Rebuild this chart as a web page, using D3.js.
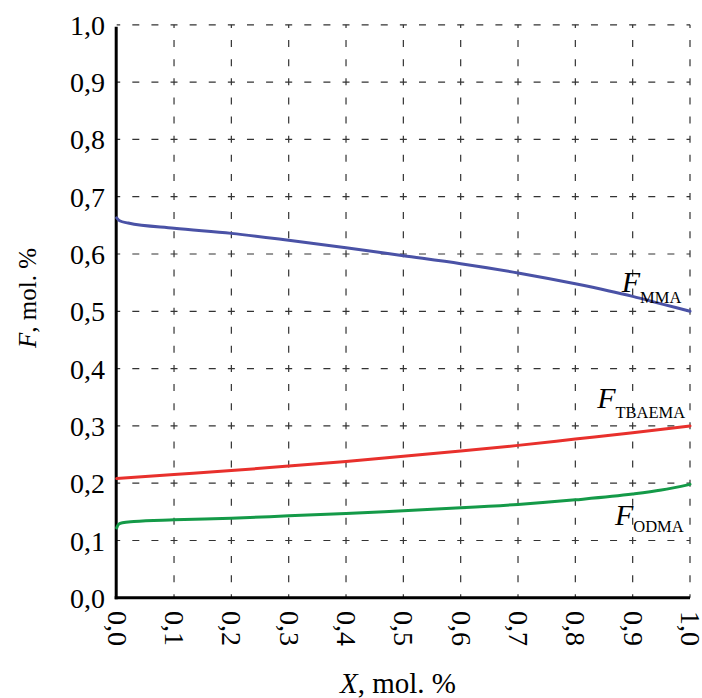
<!DOCTYPE html>
<html>
<head>
<meta charset="utf-8">
<script src="https://cdn.jsdelivr.net/npm/d3@7"></script>
<style>
  body { margin: 0; background: #fff; }
  svg { display: block; font-family: "Liberation Serif", "Times New Roman", serif; }
</style>
</head>
<body>
<svg id="chart" width="702" height="698"></svg>
<script>
// composition curves F vs conversion X
const ticks = [0, 0.1, 0.2, 0.3, 0.4, 0.5, 0.6, 0.7, 0.8, 0.9, 1.0];

const mmaX = [0, 0.005, 0.02, 0.1, 0.2, 0.3, 0.4, 0.5, 0.6, 0.7, 0.8, 0.9, 0.95, 1.0];
const mmaF = [0.663, 0.658, 0.654, 0.645, 0.636, 0.624, 0.611, 0.597, 0.583, 0.567, 0.548, 0.526, 0.513, 0.5];

const tbaemaX = [0, 0.1, 0.2, 0.3, 0.4, 0.5, 0.6, 0.7, 0.8, 0.9, 1.0];
const tbaemaF = [0.208, 0.215, 0.222, 0.23, 0.238, 0.247, 0.256, 0.266, 0.277, 0.288, 0.3];

const odmaX = [0, 0.003, 0.01, 0.03, 0.1, 0.2, 0.3, 0.4, 0.5, 0.6, 0.7, 0.8, 0.9, 0.95, 1.0];
const odmaF = [0.122, 0.128, 0.131, 0.133, 0.136, 0.139, 0.143, 0.147, 0.152, 0.157, 0.163, 0.171, 0.181, 0.188, 0.198];

const series = [
  { name: "MMA", xs: mmaX, ys: mmaF, color: "#4a52a6", lx: 0.881, ly: 0.533, sub: 11 },
  { name: "TBAEMA", xs: tbaemaX, ys: tbaemaF, color: "#e8302c", lx: 0.838, ly: 0.331, sub: 10 },
  { name: "ODMA", xs: odmaX, ys: odmaF, color: "#149a48", lx: 0.869, ly: 0.127, sub: 7 },
];

const fmt = (v) => v.toFixed(1).replace(".", ",");

const svg = d3.select("#chart");
const x = d3.scaleLinear().domain([0, 1]).range([116.7, 690]);
const y = d3.scaleLinear().domain([0, 1]).range([597.8, 24.8]);

const step = x(0.1) - x(0);
const dash = 7;
const dashArr = `${dash},${step / 3 - dash}`;

// grid (dashed, a dash centred on every crossing)
const grid = svg.append("g").attr("stroke", "#333").attr("stroke-width", 1.2)
  .attr("stroke-dasharray", dashArr).attr("stroke-dashoffset", dash / 2);
grid.selectAll("line.v").data(ticks.slice(1)).join("line")
  .attr("x1", (d) => x(d)).attr("x2", (d) => x(d))
  .attr("y1", y(0)).attr("y2", y(1));
grid.selectAll("line.h").data(ticks.slice(1)).join("line")
  .attr("class", "h")
  .attr("x1", x(0)).attr("x2", x(1))
  .attr("y1", (d) => y(d)).attr("y2", (d) => y(d));

// axes lines
svg.append("line").attr("x1", x(0) - 0.5).attr("x2", x(0) - 0.5)
  .attr("y1", y(1) + 2).attr("y2", y(0) + 1.5)
  .attr("stroke", "#000").attr("stroke-width", 3);
svg.append("line").attr("x1", x(0) - 2).attr("x2", x(1))
  .attr("y1", y(0)).attr("y2", y(0))
  .attr("stroke", "#000").attr("stroke-width", 3);

// tick labels
svg.append("g").selectAll("text").data(ticks).join("text")
  .attr("x", 105).attr("y", (d) => y(d)).attr("dy", "0.36em")
  .attr("text-anchor", "end").attr("font-size", 28)
  .text(fmt);

svg.append("g").selectAll("text").data(ticks).join("text")
  .attr("transform", (d) => `translate(${x(d) + 1},611) rotate(90)`)
  .attr("dy", "0.36em").attr("font-size", 28)
  .text(fmt);

// axis titles
const xt = svg.append("text").attr("x", 398).attr("y", 693)
  .attr("text-anchor", "middle").attr("font-size", 29);
xt.append("tspan").attr("font-style", "italic").text("X");
xt.append("tspan").text(", mol. %");

const yt = svg.append("text").attr("transform", "translate(36,298) rotate(-90)")
  .attr("text-anchor", "middle").attr("font-size", 25);
yt.append("tspan").attr("font-style", "italic").text("F");
yt.append("tspan").text(", mol. %");

// curves
const line = d3.line().x((d) => x(d[0])).y((d) => y(d[1])).curve(d3.curveMonotoneX);
svg.append("g").selectAll("path").data(series).join("path")
  .attr("d", (s) => line(d3.zip(s.xs, s.ys)))
  .attr("fill", "none").attr("stroke", (s) => s.color)
  .attr("stroke-width", 3).attr("stroke-linecap", "round");

// curve labels
const lab = svg.append("g").selectAll("text").data(series).join("text")
  .attr("x", (s) => x(s.lx)).attr("y", (s) => y(s.ly));
lab.append("tspan").attr("font-style", "italic").attr("font-size", 30).text("F");
lab.append("tspan").attr("font-size", 16.5).attr("dy", (s) => s.sub).text((s) => s.name);
</script>
</body>
</html>
